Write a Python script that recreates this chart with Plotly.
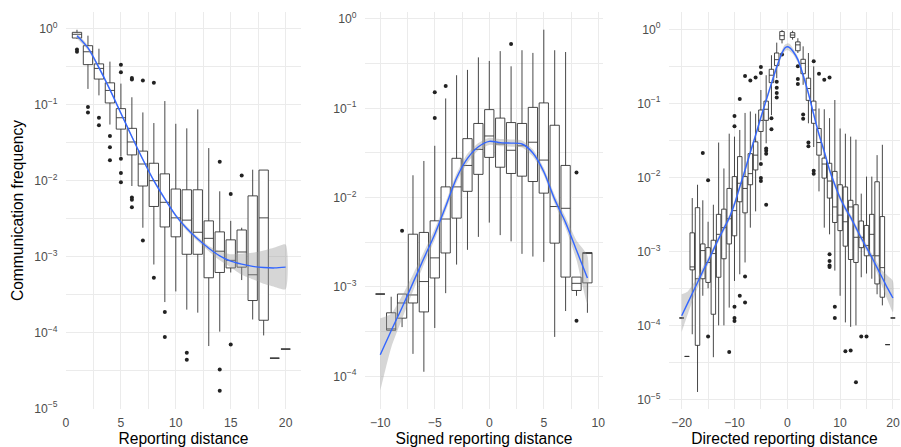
import plotly.graph_objects as go

# ---------------- data (log10 of communication frequency) ----------------
# Panel 1: reporting distance
p1_x   = list(range(1, 21))
p1_lo  = [-0.13,-0.79,-0.875,-1.26,-1.68,-2.07,-2.62,-3.105,-3.60,-3.46,-3.70,-3.74,-4.18,-3.99,-3.21,-3.31,-3.83,-4.04,-4.34,-4.22]
p1_q1  = [-0.119,-0.47,-0.66,-0.975,-1.32,-1.66,-2.07,-2.34,-2.61,-2.74,-2.97,-2.97,-3.28,-3.21,-3.15,-3.14,-3.58,-3.84,-4.34,-4.22]
p1_med = [-0.07,-0.30,-0.52,-0.81,-1.17,-1.49,-1.78,-2.0,-2.285,-2.49,-2.52,-2.68,-2.76,-2.93,-3.05,-2.94,-3.24,-2.49,-4.34,-4.22]
p1_q3  = [-0.044,-0.22,-0.46,-0.71,-1.05,-1.31,-1.61,-1.77,-1.91,-2.11,-2.12,-2.12,-2.53,-2.675,-2.78,-2.65,-2.20,-1.86,-4.34,-4.22]
p1_hi  = [-0.01,-0.088,-0.26,-0.43,-0.72,-0.90,-1.10,-1.24,-0.95,-1.25,-1.31,-1.06,-1.57,-2.14,-2.53,-2.62,-1.855,-1.86,-4.34,-4.22]
p1_out_x = [1,1,2,2,3,3,4,4,4,5,5,5,5,5,6,6,6,6,6,7,7,8,8,9,9,11,11,14,14,14,15,15,16]
p1_out_y = [-0.27,-0.30,-1.03,-1.10,-1.17,-1.27,-1.41,-1.56,-1.73,-0.47,-0.57,-1.71,-1.90,-2.02,
            -0.645,-0.665,-2.22,-2.25,-2.35,-0.68,-2.79,-0.71,-3.28,-3.73,-4.06,-4.27,-4.36,
            -1.75,-4.49,-4.77,-2.175,-4.16,-1.93]
p1_fit_x  = list(range(1, 21))
p1_fit    = [-0.09,-0.25,-0.51,-0.80,-1.11,-1.42,-1.72,-2.0,-2.24,-2.46,-2.63,-2.77,-2.89,-2.99,-3.06,-3.10,-3.13,-3.145,-3.15,-3.14]
p1_fit_hi = [-0.05,-0.22,-0.485,-0.78,-1.09,-1.40,-1.70,-1.98,-2.22,-2.44,-2.60,-2.74,-2.86,-2.93,-2.97,-2.96,-2.95,-2.92,-2.88,-2.84]
p1_fit_lo = [-0.13,-0.28,-0.535,-0.82,-1.13,-1.44,-1.74,-2.02,-2.26,-2.48,-2.66,-2.80,-2.93,-3.05,-3.14,-3.24,-3.30,-3.36,-3.40,-3.43]

# Panel 2: signed reporting distance
p2_x   = list(range(-10, 10))
p2_lo  = [-3.08,-3.485,-3.45,-3.75,-3.95,-3.46,-3.07,-2.75,-2.585,-2.44,-2.28,-2.42,-2.49,-2.63,-2.66,-2.72,-3.56,-3.27,-3.10,-3.29]
p2_q1  = [-3.08,-3.485,-3.35,-3.18,-3.28,-2.90,-2.62,-2.23,-1.93,-1.74,-1.55,-1.66,-1.73,-1.76,-1.82,-1.95,-2.51,-2.89,-3.04,-2.955]
p2_med = [-3.08,-3.47,-3.18,-3.09,-2.94,-2.675,-2.24,-1.88,-1.64,-1.46,-1.31,-1.40,-1.47,-1.42,-1.38,-1.58,-2.10,-2.12,-2.96,-2.62]
p2_q3  = [-3.08,-3.29,-3.08,-2.41,-2.39,-2.26,-1.88,-1.56,-1.34,-1.17,-1.015,-1.11,-1.16,-1.17,-0.99,-0.94,-1.19,-1.64,-2.89,-2.615]
p2_hi  = [-3.08,-3.11,-3.08,-1.75,-1.59,-1.42,-0.89,-0.63,-0.57,-0.43,-0.47,-0.36,-0.53,-0.35,-0.38,-0.12,-0.35,-0.37,-2.89,-2.615]
p2_out_x = [-8,-5,-5,-4,2,8,8]
p2_out_y = [-2.37,-0.82,-1.11,-0.75,-0.28,-1.72,-3.38]
p2_fit_x  = list(range(-10, 10))
p2_fit    = [-3.76,-3.49,-3.23,-2.955,-2.68,-2.41,-2.10,-1.78,-1.56,-1.43,-1.37,-1.385,-1.39,-1.40,-1.50,-1.71,-2.02,-2.28,-2.59,-2.90]
p2_fit_hi = [-3.35,-3.30,-3.10,-2.86,-2.61,-2.35,-2.05,-1.73,-1.51,-1.39,-1.33,-1.345,-1.35,-1.36,-1.46,-1.67,-1.97,-2.22,-2.48,-2.65]
p2_fit_lo = [-4.16,-3.68,-3.36,-3.05,-2.75,-2.47,-2.15,-1.83,-1.61,-1.47,-1.41,-1.425,-1.43,-1.44,-1.54,-1.75,-2.07,-2.34,-2.70,-3.19]

# Panel 3: directed reporting distance
p3_x   = [-20,-19,-18,-17,-16,-15,-14,-13,-12,-11,-10,-9,-8,-7,-6,-5,-4,-3,-2,-1,
          1,2,3,4,5,6,7,8,9,10,11,12,13,14,15,16,17,18,19,20]
p3_lo  = [-3.90,-4.42,-4.12,-4.90,-3.60,-3.50,-4.43,-4.00,-4.00,-3.76,-3.40,-3.31,-3.15,-2.68,-2.46,-1.77,-1.54,-1.16,-0.66,-0.19,
          -0.14,-0.32,-0.75,-1.27,-1.59,-2.19,-2.68,-2.77,-3.26,-3.60,-3.96,-4.02,-4.00,-3.35,-3.30,-3.37,-3.58,-3.73,-4.26,-3.90]
p3_q1  = [-3.90,-4.42,-3.25,-4.27,-3.37,-3.42,-3.85,-3.35,-3.10,-2.90,-2.79,-2.33,-2.48,-2.10,-1.90,-1.38,-1.23,-0.72,-0.49,-0.14,
          -0.11,-0.29,-0.60,-0.96,-1.27,-1.70,-2.01,-2.28,-2.61,-2.72,-2.93,-3.11,-3.15,-2.95,-3.06,-3.06,-3.44,-3.62,-4.26,-3.90]
p3_med = [-3.90,-4.42,-3.21,-3.37,-2.99,-3.15,-3.03,-2.77,-2.68,-2.56,-2.45,-2.08,-2.15,-1.95,-1.70,-1.23,-1.08,-0.62,-0.41,-0.086,
          -0.077,-0.21,-0.46,-0.80,-1.09,-1.53,-1.82,-2.05,-2.40,-2.51,-2.60,-2.40,-2.81,-2.81,-2.92,-2.77,-3.06,-3.22,-4.26,-3.90]
p3_q3  = [-3.90,-4.42,-2.75,-2.41,-2.90,-2.95,-2.85,-2.50,-2.43,-2.15,-1.99,-1.72,-1.99,-1.68,-1.52,-1.09,-0.97,-0.54,-0.32,-0.03,
          -0.045,-0.17,-0.405,-0.66,-0.97,-1.34,-1.74,-1.81,-1.92,-2.10,-2.13,-2.31,-2.37,-2.59,-2.65,-2.50,-2.06,-2.53,-4.26,-3.90]
p3_hi  = [-3.90,-4.42,-2.28,-2.10,-2.31,-2.60,-2.37,-1.53,-1.88,-1.41,-1.45,-1.36,-1.13,-1.11,-1.14,-0.82,-0.62,-0.35,-0.18,-0.01,
          -0.02,-0.12,-0.23,-0.32,-0.50,-1.07,-1.08,-1.20,-0.955,-1.34,-1.41,-1.45,-1.49,-2.22,-1.99,-1.99,-1.70,-1.56,-4.26,-3.90]
p3_out_x = [-16,-15,-15,-11,-10,-10,-10,-10,-10,-9,-9,-8,-8,-8,-7,-6,-5,-5,-5,-5,-5,-4,-4,-4,-4,-3,-3,
            -2,-2,-2,-2,-1,2,2,2,3,3,4,4,5,5,5,6,7,8,8,8,8,8,9,9,11,12,13,14,15]
p3_out_y = [-1.67,-2.04,-4.15,-4.36,-1.17,-1.31,-3.75,-3.90,-3.94,-0.94,-3.60,-0.63,-3.34,-3.69,-0.69,-0.65,
            -0.51,-0.59,-1.82,-2.01,-2.05,-1.61,-1.64,-1.68,-2.37,-1.20,-1.35,-0.71,-0.79,-0.86,-0.92,-0.34,
            -0.50,-0.67,-0.74,-1.15,-1.21,-1.53,-1.58,-0.43,-1.91,-1.95,-0.60,-0.68,-0.65,-3.04,-3.13,-3.19,-3.21,
            -3.75,-3.90,-4.35,-4.34,-4.77,-4.15,-4.15]
p3_fit_x  = [-20,-19,-18,-17,-16,-15,-14,-13,-12,-11,-10,-9,-8,-7,-6,-5,-4,-3,-2,-1,-0.5,0,0.5,
             1,2,3,4,5,6,7,8,9,10,11,12,13,14,15,16,17,18,19,20]
p3_fit    = [-3.87,-3.72,-3.57,-3.42,-3.27,-3.13,-2.98,-2.83,-2.69,-2.55,-2.36,-2.13,-1.90,-1.66,-1.43,-1.19,-0.96,-0.73,-0.51,-0.32,-0.255,-0.235,-0.25,
             -0.29,-0.41,-0.62,-0.865,-1.15,-1.42,-1.65,-1.90,-2.10,-2.28,-2.42,-2.54,-2.68,-2.82,-2.95,-3.08,-3.22,-3.36,-3.50,-3.63]
p3_fit_hi = [-3.58,-3.55,-3.46,-3.35,-3.21,-3.08,-2.94,-2.79,-2.65,-2.51,-2.32,-2.09,-1.86,-1.62,-1.39,-1.15,-0.92,-0.69,-0.47,-0.28,-0.21,-0.19,-0.20,
             -0.25,-0.37,-0.58,-0.825,-1.11,-1.38,-1.61,-1.86,-2.06,-2.24,-2.38,-2.50,-2.64,-2.78,-2.90,-3.03,-3.15,-3.26,-3.33,-3.40]
p3_fit_lo = [-4.09,-3.88,-3.68,-3.50,-3.33,-3.18,-3.02,-2.87,-2.73,-2.59,-2.40,-2.17,-1.94,-1.70,-1.47,-1.23,-1.00,-0.77,-0.55,-0.36,-0.30,-0.28,-0.30,
             -0.33,-0.45,-0.66,-0.905,-1.19,-1.46,-1.69,-1.94,-2.14,-2.32,-2.46,-2.58,-2.72,-2.86,-3.00,-3.13,-3.29,-3.48,-3.66,-3.82]

x_titles = ["Reporting distance", "Signed reporting distance", "Directed reporting distance"]
y_title = "Communication frequency"

# ---------------- styling ----------------
FONT = "Liberation Sans, Arial, Helvetica, sans-serif"
BOX_LINE = "#333333"
GRID = "#EBEBEB"
FIT_COLOR = "#3366FF"
RIBBON = "rgba(153,153,153,0.4)"

def p10(vals):
    return [10 ** v for v in vals]

fig = go.Figure()

panels = [
    (p1_x, p1_lo, p1_q1, p1_med, p1_q3, p1_hi, p1_out_x, p1_out_y, p1_fit_x, p1_fit, p1_fit_lo, p1_fit_hi),
    (p2_x, p2_lo, p2_q1, p2_med, p2_q3, p2_hi, p2_out_x, p2_out_y, p2_fit_x, p2_fit, p2_fit_lo, p2_fit_hi),
    (p3_x, p3_lo, p3_q1, p3_med, p3_q3, p3_hi, p3_out_x, p3_out_y, p3_fit_x, p3_fit, p3_fit_lo, p3_fit_hi),
]

for i, (xs, lo, q1, med, q3, hi, ox, oy, fx, fy, flo, fhi) in enumerate(panels):
    xa = "x" if i == 0 else f"x{i+1}"
    ya = "y" if i == 0 else f"y{i+1}"
    fig.add_trace(go.Box(
        x=xs, q1=p10(q1), median=p10(med), q3=p10(q3),
        lowerfence=p10(lo), upperfence=p10(hi),
        width=0.85, whiskerwidth=0, boxpoints=False,
        fillcolor="white", line=dict(color=BOX_LINE, width=0.9),
        xaxis=xa, yaxis=ya, showlegend=False, hoverinfo="skip",
    ))
for i, (xs, lo, q1, med, q3, hi, ox, oy, fx, fy, flo, fhi) in enumerate(panels):
    xa = "x" if i == 0 else f"x{i+1}"
    ya = "y" if i == 0 else f"y{i+1}"
    fig.add_trace(go.Scatter(
        x=ox, y=p10(oy), mode="markers",
        marker=dict(color="#222222", size=4),
        xaxis=xa, yaxis=ya, showlegend=False, hoverinfo="skip",
    ))
    fig.add_trace(go.Scatter(
        x=list(fx) + list(fx)[::-1], y=p10(fhi) + p10(flo)[::-1],
        mode="lines", fill="toself", fillcolor=RIBBON,
        line=dict(width=0, shape="spline", smoothing=0.6),
        xaxis=xa, yaxis=ya, showlegend=False, hoverinfo="skip",
    ))
    fig.add_trace(go.Scatter(
        x=fx, y=p10(fy), mode="lines",
        line=dict(color=FIT_COLOR, width=1.4, shape="spline", smoothing=0.8),
        xaxis=xa, yaxis=ya, showlegend=False, hoverinfo="skip",
    ))

# ---------------- layout ----------------
W, H = 901, 447
ML, MR, MT, MB = 66, 1, 12, 38
PW = W - ML - MR

def dom(a, b):
    return [(a - ML) / PW, (b - ML) / PW]

x_domains = [dom(66, 301), dom(365, 603), dom(669, 900)]
x_ranges = [[0, 21.4], [-11.40, 10.43], [-22.40, 21.34]]
x_ticks = [[0, 5, 10, 15, 20], [-10, -5, 0, 5, 10], [-20, -10, 0, 10, 20]]
x_minor = [[2.5, 7.5, 12.5, 17.5], [-7.5, -2.5, 2.5, 7.5], [-15, -5, 5, 15]]
y_ranges = [[-5.01, 0.224], [-4.367, 0.078], [-5.13, 0.234]]
y_decades = [[0, -1, -2, -3, -4, -5], [0, -1, -2, -3, -4], [0, -1, -2, -3, -4, -5]]

tick_font = dict(family=FONT, size=12.2, color="#4D4D4D")
title_font = dict(family=FONT, size=15.6, color="#000000")

def sup(k):
    return "10<sup>" + (str(k) if k >= 0 else "\u2212" + str(-k)) + "</sup>"

layout = dict(
    width=W, height=H,
    margin=dict(l=ML, r=MR, t=MT, b=MB),
    paper_bgcolor="white", plot_bgcolor="white",
    showlegend=False,
    font=dict(family=FONT),
)
for i in range(3):
    xk = "xaxis" if i == 0 else f"xaxis{i+1}"
    yk = "yaxis" if i == 0 else f"yaxis{i+1}"
    ya = "y" if i == 0 else f"y{i+1}"
    xa = "x" if i == 0 else f"x{i+1}"
    decs = y_decades[i]
    layout[xk] = dict(
        domain=x_domains[i], anchor=ya, range=x_ranges[i],
        tickmode="array", tickvals=x_ticks[i],
        showgrid=True, gridcolor=GRID, gridwidth=1.1,
        minor=dict(tickvals=x_minor[i], showgrid=True, gridcolor=GRID, gridwidth=0.6, ticks=""),
        zeroline=False, showline=False,
        ticks="outside", ticklen=2, tickcolor="rgba(0,0,0,0)",
        tickfont=tick_font,
        title=dict(text=x_titles[i], font=title_font, standoff=1),
        automargin=False,
    )
    layout[yk] = dict(
        domain=[0, 1], anchor=xa, type="log", range=y_ranges[i],
        tickmode="array", tickvals=[10 ** k for k in decs], ticktext=[sup(k) for k in decs],
        showgrid=True, gridcolor=GRID, gridwidth=1.1,
        minor=dict(tickvals=[10 ** (k - 0.5) for k in decs], showgrid=True, gridcolor=GRID, gridwidth=0.6, ticks=""),
        zeroline=False, showline=False,
        ticks="outside", ticklen=5, tickcolor="rgba(0,0,0,0)",
        tickfont=tick_font,
        automargin=False,
    )
layout["yaxis"]["title"] = dict(text=y_title, font=title_font, standoff=6)

fig.update_layout(**layout)
fig.write_html("out.html", config={"displayModeBar": False},
               post_script="document.body.style.margin='0';document.body.style.padding='0';")
